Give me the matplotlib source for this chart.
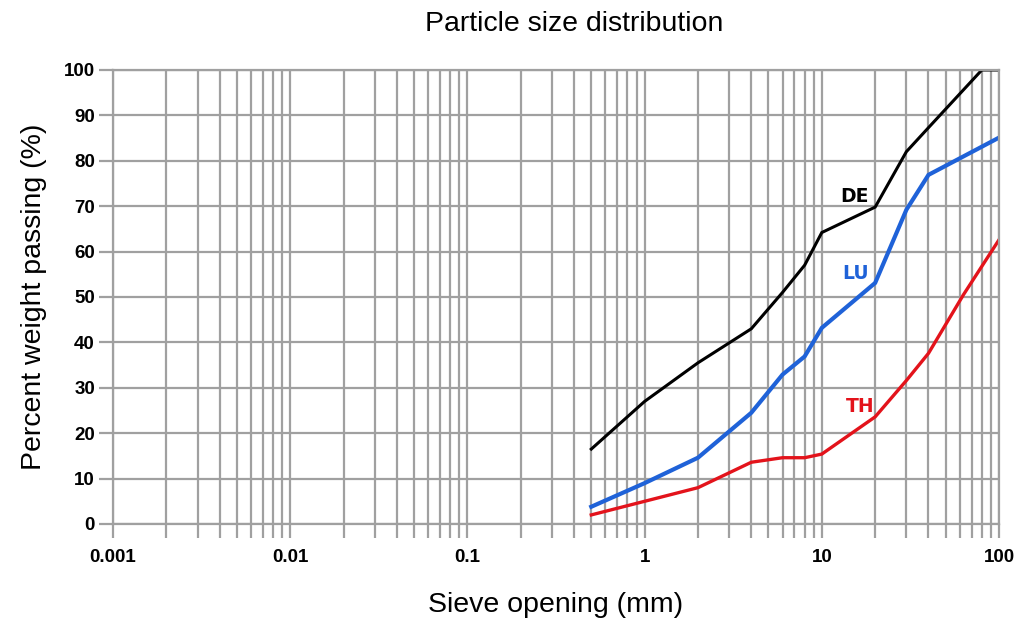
import matplotlib
matplotlib.use("Agg")
import matplotlib.pyplot as plt
from matplotlib.ticker import LogLocator, FixedLocator, NullFormatter

plt.rcParams['font.family'] = ['Liberation Sans', 'DejaVu Sans']

# Sieve sizes (mm) and percent passing for each sample
de_size = [0.5, 1, 2, 4, 6, 8, 10, 20, 30, 40, 80, 100]
de_pass = [16.5, 27, 35.5, 43, 51, 57, 64.2, 69.8, 82, 87.3, 100, 100]

lu_size = [0.5, 1, 2, 4, 6, 8, 10, 20, 30, 40, 100]
lu_pass = [3.8, 9.0, 14.6, 24.5, 32.9, 36.9, 43.2, 53.1, 69.2, 76.9, 85.1]

th_size = [0.5, 1, 2, 4, 6, 8, 10, 20, 30, 40, 63, 100]
th_pass = [2.0, 5.0, 8.0, 13.6, 14.6, 14.6, 15.4, 23.6, 31.6, 37.6, 50.5, 62.6]

y_ticks = [0, 10, 20, 30, 40, 50, 60, 70, 80, 90, 100]
x_ticks = [0.001, 0.01, 0.1, 1, 10, 100]
x_tick_labels = ['0.001', '0.01', '0.1', '1', '10', '100']

grid_color = '#a0a0a0'

fig = plt.figure(figsize=(10.22, 6.21), dpi=100)
ax = fig.add_axes([0.1106, 0.1562, 0.8669, 0.7311])

ax.set_xscale('log')
ax.set_xlim(0.001, 100)
ax.set_ylim(0, 100)

ax.xaxis.set_major_locator(FixedLocator(x_ticks))
ax.xaxis.set_minor_locator(LogLocator(base=10, subs=range(2, 10), numticks=20))
ax.xaxis.set_minor_formatter(NullFormatter())
ax.set_xticklabels(x_tick_labels)
ax.set_yticks(y_ticks)

ax.grid(True, which='both', axis='x', color=grid_color, linewidth=1.6)
ax.grid(True, which='major', axis='y', color=grid_color, linewidth=1.6)
ax.set_axisbelow(True)

ax.tick_params(axis='x', which='both', length=10, width=1.6, color=grid_color,
               pad=8, labelsize=13.5)
ax.tick_params(axis='y', which='major', length=10, width=1.6, color=grid_color,
               pad=3, labelsize=13.5)
for lbl in ax.get_xticklabels() + ax.get_yticklabels():
    lbl.set_fontweight('bold')

for sp in ax.spines.values():
    sp.set_color(grid_color)
    sp.set_linewidth(1.6)

ax.plot(de_size, de_pass, color='black', linewidth=2.2, solid_joinstyle='miter')
ax.plot(lu_size, lu_pass, color='#1f62d8', linewidth=3.0, solid_joinstyle='miter')
ax.plot(th_size, th_pass, color='#e3131b', linewidth=2.4, solid_joinstyle='miter')

label_font = dict(family='DejaVu Sans', fontsize=13.5, fontweight='bold', ha='center', va='center')
ax.text(15.2, 72.1, 'DE', color='black', **label_font)
ax.text(15.5, 55.2, 'LU', color='#1f62d8', **label_font)
ax.text(16.5, 25.8, 'TH', color='#e3131b', **label_font)

ax.set_xlabel('Sieve opening (mm)', fontsize=20.5, labelpad=19)
ax.set_ylabel('Percent weight passing (%)', fontsize=20.5, labelpad=12)
fig.text(0.562, 0.962, 'Particle size distribution', fontsize=20.5, ha='center', va='center')

fig.savefig('out.png', dpi=100, facecolor='white')
